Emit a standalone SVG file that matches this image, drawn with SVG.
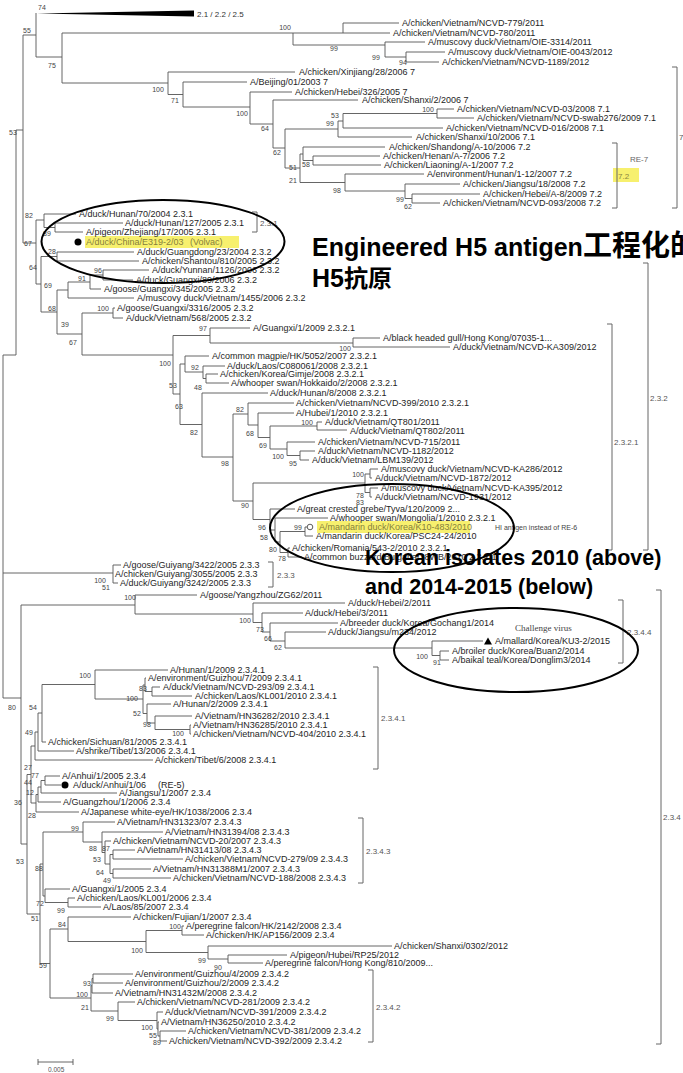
<svg xmlns="http://www.w3.org/2000/svg" width="683" height="1073" viewBox="0 0 683 1073">
<style>
.l{font-family:"Liberation Sans",Arial,sans-serif;font-size:9px;fill:#1e1e1e}
.o{font-family:"Liberation Sans",Arial,sans-serif;font-size:9px;fill:#857f3c}
.b{font-family:"Liberation Sans",Arial,sans-serif;font-size:7px;fill:#444;text-anchor:middle}
.c{font-family:"Liberation Sans",Arial,sans-serif;font-size:8px;fill:#555}
.big{font-family:"Liberation Sans",Arial,"Noto Sans CJK SC",sans-serif;font-weight:bold;fill:#000}
.br{fill:none;stroke:#666;stroke-width:1}
.e{fill:none;stroke:#000;stroke-width:2}
.hl{fill:#f7f06e}
</style>
<rect width="683" height="1073" fill="#fff"/>
<g id="highlights">
<rect class="hl" x="85" y="236" width="154" height="12"/>
<rect class="hl" x="317" y="521" width="153" height="12"/>
<rect class="hl" x="613" y="168" width="26" height="14"/>
</g>
<g id="connectors" fill="none" stroke="#555" stroke-width="0.9">
<polygon points="37,13.5 194,10.5 194,16.5" fill="#000" stroke="none"/>
<path d="M36 13V57M23 35H36M23 35V243M16 130H23M16 130V355M3 355H16M3 355V698M36 57H62M62 33V83M62 33H390M293 33V45M293 45H385M343 23V33M343 23H399M385 42V57M385 42H425M385 57H406M406 52V62M406 52H445M406 62H439M62 83H168M168 72V94.5M168 72H295M168 94.5H183M183 82V107M183 82H247M183 107H250M250 92V124M250 92H292M250 124H273M273 100V148M273 100H358M273 148H285M285 129V168M285 129H338M285 168H300M338 121V137M338 121H343M338 137H412M343 113.5V128M343 113.5H437M343 128H443M437 109V118M437 109H454M437 118H474M300 154V182.5M300 154H303M300 182.5H345M303 147V160.5M303 147H385M303 160.5H313M313 156V165M313 156H380M313 165H381M345 174V191M345 174H424M345 191H405M405 184V198.5M405 184H460M405 198.5H412M412 194V203M412 194H480M412 203H440"/>
<path d="M23 243H36M36 220V284M36 220H44M36 284H41M44 214V227.5M44 214H76M44 227.5H55M55 223V232M55 223H123M55 232H83M41 256.5V312M41 256.5H57M41 312H57M57 252V261M57 252H134M57 261H139M57 290V334M57 290H68M57 334H82M68 282V298M68 282H90M68 298H134M90 275V289M90 275H103M90 289H101M103 270V280M103 270H149M103 280H133M82 313V355M82 313H113M82 355H173M113 308V318M113 308H115M113 318H123"/>
<path d="M173 335.5V394M173 335.5H210M173 394H180M210 328V343M210 328H250M210 343H353M353 338V347M353 338H380M353 347H450M180 364V424.5M180 364H185M180 424.5H202M185 356V372M185 356H209M185 372H203M203 366V378.5M203 366H225M203 378.5H206M206 374V383M206 374H218M206 383H229M202 393V457M202 393H268M202 457H233M233 414V501M233 414H248M233 501H253M248 403V425M248 403H294M248 425H258M258 413V437.5M258 413H294M258 437.5H270M270 426V449M270 426H317M270 449H287M317 422V430M317 422H322M317 430H347M287 442V455.5M287 442H315M287 455.5H300M300 451V460M300 451H315M300 460H309M253 483V519.5M253 483H365M253 519.5H270M365 474V492.5M365 474H370M365 492.5H370M370 469V478M370 469H378M370 478H372M370 488V497M370 488H378M370 497H372M270 509V530M270 509H295M270 530H275M275 518V542M275 518H328M275 542H280M280 531.5V552.5M280 531.5H305M280 552.5H288M305 527V536M305 527H307M305 536H313M288 548V557M288 548H290M288 557H302"/>
<path d="M3 573H113M113 565V583M113 565H121M113 583H118M3 698H21M21 605V844M21 605H135M21 844H27M135 595V614M135 595H197M135 614H253M253 603V622.5M253 603H345M253 622.5H262M262 613V632M262 613H303M262 632H270M270 623V641M270 623H338M270 641H285M285 632V648M285 632H326M285 648H432M432 641V655.5M432 641H483M432 655.5H440M440 651V660M440 651H449M440 660H449"/>
<path d="M27 774.5V914M27 774.5H31M27 914H40M31 746V803M31 746H35M31 803H36M35 732V760M35 732H38M35 760H153M38 713V751M38 713H42M38 751H74M42 684.5V742M42 684.5H95M42 742H46M95 670V699M95 670H168M95 699H143M143 685V713.5M143 685H145M143 713.5H147M145 678V691.5M145 678H146M145 691.5H152M152 687V696M152 687H160M152 696H192M147 704V723M147 704H171M147 723H155M155 716V729.5M155 716H192M155 729.5H190M190 725V734M190 725H191M190 734H191M36 794.5V812M36 794.5H38M36 812H79M38 787V802M38 787H41M38 802H61M41 780.5V793M41 780.5H45M41 793H117M45 776V785M45 776H60M45 785H61"/>
<path d="M40 864V963.5M40 864H43M40 963.5H50M43 832V896M43 832H83M43 896H45M83 822V842M83 822H115M83 842H102M102 832V852.5M102 832H163M102 852.5H105M105 841V864M105 841H111M105 864H110M110 854.5V873.5M110 854.5H113M110 873.5H113M113 850V859M113 850H135M113 859H183M113 869V878M113 869H151M113 878H171M45 889V902.5M45 889H70M45 902.5H68M68 898V907M68 898H75M68 907H101M50 929V998M50 929H68M50 998H91M68 917V941.5M68 917H131M68 941.5H146M146 930.5V952.5M146 930.5H182M146 952.5H208M182 926V935M182 926H184M182 935H204M208 946V959M208 946H392M208 959H228M228 955V963M228 955H287M228 963H263M91 985.75V1011M91 985.75H92M91 1011H118M92 978.5V993M92 978.5H93M92 993H113M93 974V983M93 974H133M93 983H123M118 1002V1020.5M118 1002H135M118 1020.5H157M157 1012V1029M157 1012H163M157 1029H158M158 1022V1036M158 1022H159M158 1036H160M160 1031V1041M160 1031H186M160 1041H167"/>
<path d="M38 1062H73M38 1059V1065M73 1059V1065"/>
</g>
<g id="brackets" opacity="0.999">
<path class="br" d="M672 67H677V208H672M612 143H617V208H612M252 212H257V232H252M607 324H612V550H607M643 263H648V550H643M268 562H273V587H268M618 600H623V663H618M656 590H661V1044H656M373 667H378V769H373M358 818H363V883H358M368 970H373V1042H368"/>
<text class="c" x="679" y="140">7</text>
<text class="c" x="630" y="162" style="fill:#666">RE-7</text>
<text class="c" x="618" y="179" style="fill:#8a8440">7.2</text>
<text class="c" x="260" y="226">2.3.1</text>
<text class="c" x="614" y="445">2.3.2.1</text>
<text class="c" x="650" y="401">2.3.2</text>
<text class="c" x="277" y="578">2.3.3</text>
<text class="c" x="627" y="635">2.3.4.4</text>
<text class="c" x="663" y="820">2.3.4</text>
<text class="c" x="381" y="721">2.3.4.1</text>
<text class="c" x="366" y="854">2.3.4.3</text>
<text class="c" x="376" y="1010">2.3.4.2</text>
<text class="c" x="197" y="16.5" style="fill:#333">2.1 / 2.2 / 2.5</text>
<text class="c" x="48" y="1072" style="font-size:6.5px">0.005</text>
</g>
<g id="bootstrap" opacity="0.999">
<text class="b" x="42" y="9.5">74</text><text class="b" x="27" y="32.5">55</text><text class="b" x="52" y="67.5">75</text><text class="b" x="285" y="29.5">100</text><text class="b" x="334" y="50.5">99</text><text class="b" x="376" y="59.5">99</text><text class="b" x="403" y="64.5">94</text><text class="b" x="158" y="91.5">100</text><text class="b" x="175" y="102.5">71</text><text class="b" x="242" y="115.5">100</text><text class="b" x="265" y="130.5">64</text><text class="b" x="335" y="117.5">53</text><text class="b" x="330" y="125.5">99</text><text class="b" x="428" y="112">100</text><text class="b" x="277" y="154.5">62</text><text class="b" x="306" y="166.5">58</text><text class="b" x="293" y="169.5">51</text><text class="b" x="293" y="182.5">21</text><text class="b" x="337" y="192.5">98</text><text class="b" x="400" y="201.5">99</text><text class="b" x="408" y="208.5">62</text><text class="b" x="13" y="134.5">53</text>
<text class="b" x="29" y="217.5">82</text><text class="b" x="47" y="235.5">89</text><text class="b" x="28" y="245.5">67</text><text class="b" x="52" y="253.5">28</text><text class="b" x="33" y="269.5">64</text><text class="b" x="98" y="272.5">96</text><text class="b" x="82" y="280.5">91</text><text class="b" x="48" y="287.5">69</text><text class="b" x="52" y="310.5">68</text><text class="b" x="103" y="310.5">100</text><text class="b" x="65" y="326.5">39</text><text class="b" x="73" y="344.5">67</text>
<text class="b" x="203" y="330.5">97</text><text class="b" x="345" y="351">100</text><text class="b" x="165" y="365.5">100</text><text class="b" x="195" y="369.5">92</text><text class="b" x="173" y="387.5">53</text><text class="b" x="198" y="389.5">48</text><text class="b" x="179" y="408.5">63</text><text class="b" x="240" y="411.5">82</text><text class="b" x="307" y="424.5">100</text><text class="b" x="194" y="434.5">82</text><text class="b" x="250" y="435.5">68</text><text class="b" x="263" y="447.5">69</text><text class="b" x="278" y="458.5">100</text><text class="b" x="293" y="465.5">95</text><text class="b" x="225" y="465.5">98</text><text class="b" x="358" y="476.5">100</text><text class="b" x="360" y="497.5">78</text><text class="b" x="360" y="504.5">83</text><text class="b" x="245" y="507.5">90</text><text class="b" x="262" y="529.5">96</text><text class="b" x="298" y="529.5">99</text><text class="b" x="264" y="539.5">58</text><text class="b" x="273" y="551.5">80</text><text class="b" x="282" y="560.5">78</text>
<text class="b" x="100" y="582.5">100</text><text class="b" x="106" y="589.5">51</text>
<text class="b" x="130" y="599.5">100</text><text class="b" x="245" y="622.5">100</text><text class="b" x="260" y="631.5">73</text><text class="b" x="268" y="640.5">66</text><text class="b" x="278" y="649.5">62</text><text class="b" x="422" y="658.5">100</text><text class="b" x="437" y="664.5">91</text>
<text class="b" x="12" y="709.5">80</text>
<text class="b" x="85" y="677.5">100</text><text class="b" x="143" y="690.5">83</text><text class="b" x="132" y="700.5">100</text><text class="b" x="137" y="715.5">52</text><text class="b" x="147" y="726.5">98</text><text class="b" x="178" y="735.5">100</text><text class="b" x="33" y="709.5">54</text><text class="b" x="29" y="734.5">49</text><text class="b" x="28" y="769.5">27</text><text class="b" x="35" y="777.5">77</text><text class="b" x="28" y="784.5">44</text><text class="b" x="30" y="794.5">12</text><text class="b" x="18" y="804.5">36</text><text class="b" x="32" y="817.5">28</text>
<text class="b" x="75" y="830.5">99</text><text class="b" x="93" y="850.5">88</text><text class="b" x="106" y="850.5">87</text><text class="b" x="97" y="861.5">53</text><text class="b" x="100" y="874.5">64</text><text class="b" x="107" y="882.5">49</text><text class="b" x="20" y="863.5">53</text><text class="b" x="39" y="870.5">88</text><text class="b" x="40" y="905.5">72</text><text class="b" x="61" y="912.5">99</text><text class="b" x="35" y="920.5">51</text><text class="b" x="62" y="926.5">84</text><text class="b" x="175" y="928.5">100</text><text class="b" x="137" y="952.5">100</text><text class="b" x="202" y="962.5">99</text><text class="b" x="218" y="969.5">90</text><text class="b" x="43" y="967.5">59</text><text class="b" x="87" y="985.5">93</text><text class="b" x="82" y="996.5">100</text><text class="b" x="85" y="1009.5">21</text><text class="b" x="110" y="1020.5">99</text><text class="b" x="147" y="1029.5">100</text><text class="b" x="153" y="1037.5">55</text><text class="b" x="157" y="1044.5">89</text>
</g>
<g id="leaves">
<g id="n1"><text class="l" x="402" y="26">A/chicken/Vietnam/NCVD-779/2011</text></g>
<g id="n2"><text class="l" x="393" y="36">A/chicken/Vietnam/NCVD-780/2011</text></g>
<g id="n3"><text class="l" x="428" y="45">A/muscovy duck/Vietnam/OIE-3314/2011</text></g>
<g id="n4"><text class="l" x="448" y="55">A/muscovy duck/Vietnam/OIE-0043/2012</text></g>
<g id="n5"><text class="l" x="442" y="65">A/chicken/Vietnam/NCVD-1189/2012</text></g>
<g id="n6"><text class="l" x="299" y="75">A/chicken/Xinjiang/28/2006 7</text></g>
<g id="n7"><text class="l" x="250" y="85">A/Beijing/01/2003 7</text></g>
<g id="n8"><text class="l" x="295" y="95">A/chicken/Hebei/326/2005 7</text></g>
<g id="n9"><text class="l" x="362" y="103">A/chicken/Shanxi/2/2006 7</text></g>
<g id="n10"><text class="l" x="457" y="112">A/chicken/Vietnam/NCVD-03/2008 7.1</text></g>
<g id="n11"><text class="l" x="477" y="121">A/chicken/Vietnam/NCVD-swab276/2009 7.1</text></g>
<g id="n12"><text class="l" x="446" y="131">A/chicken/Vietnam/NCVD-016/2008 7.1</text></g>
<g id="n13"><text class="l" x="416" y="140">A/chicken/Shanxi/10/2006 7.1</text></g>
<g id="n14"><text class="l" x="389" y="150">A/chicken/Shandong/A-10/2006 7.2</text></g>
<g id="n15"><text class="l" x="383" y="159">A/chicken/Henan/A-7/2006 7.2</text></g>
<g id="n16"><text class="l" x="384" y="168">A/chicken/Liaoning/A-1/2007 7.2</text></g>
<g id="n17"><text class="l" x="427" y="177">A/environment/Hunan/1-12/2007 7.2</text></g>
<g id="n18"><text class="l" x="463" y="187">A/chicken/Jiangsu/18/2008 7.2</text></g>
<g id="n19"><text class="l" x="483" y="197">A/chicken/Hebei/A-8/2009 7.2</text></g>
<g id="n20"><text class="l" x="443" y="206">A/chicken/Vietnam/NCVD-093/2008 7.2</text></g>
<g id="n21"><text class="l" x="79" y="217">A/duck/Hunan/70/2004 2.3.1</text></g>
<g id="n22"><text class="l" x="125" y="226">A/duck/Hunan/127/2005 2.3.1</text></g>
<g id="n23"><text class="l" x="86" y="235">A/pigeon/Zhejiang/17/2005 2.3.1</text></g>
<g id="n24"><circle cx="78" cy="242" r="3.5" fill="#000"/><text class="o" x="86" y="245">A/duck/China/E319-2/03</text><text class="o" x="190" y="245">(Volvac)</text></g>
<g id="n25"><text class="l" x="137" y="255">A/duck/Guangdong/23/2004 2.3.2</text></g>
<g id="n26"><text class="l" x="142" y="264">A/chicken/Shantou/810/2005 2.3.2</text></g>
<g id="n27"><text class="l" x="152" y="273">A/duck/Yunnan/1126/2006 2.3.2</text></g>
<g id="n28"><text class="l" x="136" y="283">A/duck/Guangxi/89/2006 2.3.2</text></g>
<g id="n29"><text class="l" x="104" y="292">A/goose/Guangxi/345/2005 2.3.2</text></g>
<g id="n30"><text class="l" x="137" y="301">A/muscovy duck/Vietnam/1455/2006 2.3.2</text></g>
<g id="n31"><text class="l" x="117" y="311">A/goose/Guangxi/3316/2005 2.3.2</text></g>
<g id="n32"><text class="l" x="126" y="321">A/duck/Vietnam/568/2005 2.3.2</text></g>
<g id="n33"><text class="l" x="253" y="331">A/Guangxi/1/2009 2.3.2.1</text></g>
<g id="n34"><text class="l" x="383" y="341">A/black headed gull/Hong Kong/07035-1...</text></g>
<g id="n35"><text class="l" x="453" y="350">A/duck/Vietnam/NCVD-KA309/2012</text></g>
<g id="n36"><text class="l" x="212" y="359">A/common magpie/HK/5052/2007 2.3.2.1</text></g>
<g id="n37"><text class="l" x="227" y="369">A/duck/Laos/C080061/2008 2.3.2.1</text></g>
<g id="n38"><text class="l" x="220" y="377">A/chicken/Korea/Gimje/2008 2.3.2.1</text></g>
<g id="n39"><text class="l" x="231" y="386">A/whooper swan/Hokkaido/2/2008 2.3.2.1</text></g>
<g id="n40"><text class="l" x="270" y="396">A/duck/Hunan/8/2008 2.3.2.1</text></g>
<g id="n41"><text class="l" x="296" y="406">A/chicken/Vietnam/NCVD-399/2010 2.3.2.1</text></g>
<g id="n42"><text class="l" x="296" y="416">A/Hubei/1/2010 2.3.2.1</text></g>
<g id="n43"><text class="l" x="325" y="425">A/duck/Vietnam/QT801/2011</text></g>
<g id="n44"><text class="l" x="350" y="434">A/duck/Vietnam/QT802/2011</text></g>
<g id="n45"><text class="l" x="318" y="445">A/chicken/Vietnam/NCVD-715/2011</text></g>
<g id="n46"><text class="l" x="318" y="454">A/duck/Vietnam/NCVD-1182/2012</text></g>
<g id="n47"><text class="l" x="312" y="463">A/duck/Vietnam/LBM139/2012</text></g>
<g id="n48"><text class="l" x="381" y="472">A/muscovy duck/Vietnam/NCVD-KA286/2012</text></g>
<g id="n49"><text class="l" x="375" y="481">A/duck/Vietnam/NCVD-1872/2012</text></g>
<g id="n50"><text class="l" x="381" y="491">A/muscovy duck/Vietnam/NCVD-KA395/2012</text></g>
<g id="n51"><text class="l" x="375" y="500">A/duck/Vietnam/NCVD-1931/2012</text></g>
<g id="n52"><text class="l" x="297" y="512">A/great crested grebe/Tyva/120/2009 2...</text></g>
<g id="n53"><text class="l" x="330" y="521">A/whooper swan/Mongolia/1/2010 2.3.2.1</text></g>
<g id="n54"><circle cx="310" cy="527" r="2.8" fill="none" stroke="#333" stroke-width="0.8"/><text class="o" x="319" y="530">A/mandarin duck/Korea/K10-483/2010</text></g>
<g id="n55"><text class="l" x="316" y="539">A/mandarin duck/Korea/PSC24-24/2010</text></g>
<g id="n56"><text class="l" x="292" y="551">A/chicken/Romania/543-2/2010 2.3.2.1</text></g>
<g id="n57"><text class="l" x="304" y="560">A/common buzzard/Bulgaria/38WB/2010 2.3.2.1</text></g>
<g id="n58"><text class="l" x="123" y="568">A/goose/Guiyang/3422/2005 2.3.3</text></g>
<g id="n59"><text class="l" x="115" y="577">A/chicken/Guiyang/3055/2005 2.3.3</text></g>
<g id="n60"><text class="l" x="120" y="586">A/duck/Guiyang/3242/2005 2.3.3</text></g>
<g id="n61"><text class="l" x="200" y="598">A/goose/Yangzhou/ZG62/2011</text></g>
<g id="n62"><text class="l" x="348" y="606">A/duck/Hebei/2/2011</text></g>
<g id="n63"><text class="l" x="305" y="616">A/duck/Hebei/3/2011</text></g>
<g id="n64"><text class="l" x="340" y="626">A/breeder duck/Korea/Gochang1/2014</text></g>
<g id="n65"><text class="l" x="328" y="635">A/duck/Jiangsu/m234/2012</text></g>
<g id="n66"><polygon points="484,644.5 488,637.5 492,644.5" fill="#000"/><text class="l" x="495" y="644">A/mallard/Korea/KU3-2/2015</text></g>
<g id="n67"><text class="l" x="452" y="654">A/broiler duck/Korea/Buan2/2014</text></g>
<g id="n68"><text class="l" x="452" y="663">A/baikal teal/Korea/Donglim3/2014</text></g>
<g id="n69"><text class="l" x="170" y="673">A/Hunan/1/2009 2.3.4.1</text></g>
<g id="n70"><text class="l" x="148" y="681">A/environment/Guizhou/7/2009 2.3.4.1</text></g>
<g id="n71"><text class="l" x="163" y="690">A/duck/Vietnam/NCVD-293/09 2.3.4.1</text></g>
<g id="n72"><text class="l" x="195" y="699">A/chicken/Laos/KL001/2010 2.3.4.1</text></g>
<g id="n73"><text class="l" x="173" y="707">A/Hunan/2/2009 2.3.4.1</text></g>
<g id="n74"><text class="l" x="195" y="719">A/Vietnam/HN36282/2010 2.3.4.1</text></g>
<g id="n75"><text class="l" x="193" y="728">A/Vietnam/HN36285/2010 2.3.4.1</text></g>
<g id="n76"><text class="l" x="193" y="737">A/chicken/Vietnam/NCVD-404/2010 2.3.4.1</text></g>
<g id="n77"><text class="l" x="48" y="745">A/chicken/Sichuan/81/2005 2.3.4.1</text></g>
<g id="n78"><text class="l" x="76" y="754">A/shrike/Tibet/13/2006 2.3.4.1</text></g>
<g id="n79"><text class="l" x="155" y="763">A/chicken/Tibet/6/2008 2.3.4.1</text></g>
<g id="n80"><text class="l" x="62" y="779">A/Anhui/1/2005 2.3.4</text></g>
<g id="n81"><circle cx="65" cy="785" r="3.5" fill="#000"/><text class="l" x="73" y="788">A/duck/Anhui/1/06</text><text class="l" x="158" y="788">(RE-5)</text></g>
<g id="n82"><text class="l" x="119" y="796">A/Jiangsu/1/2007 2.3.4</text></g>
<g id="n83"><text class="l" x="63" y="805">A/Guangzhou/1/2006 2.3.4</text></g>
<g id="n84"><text class="l" x="81" y="815">A/Japanese white-eye/HK/1038/2006 2.3.4</text></g>
<g id="n85"><text class="l" x="117" y="825">A/Vietnam/HN31323/07 2.3.4.3</text></g>
<g id="n86"><text class="l" x="165" y="835">A/Vietnam/HN31394/08 2.3.4.3</text></g>
<g id="n87"><text class="l" x="113" y="844">A/chicken/Vietnam/NCVD-20/2007 2.3.4.3</text></g>
<g id="n88"><text class="l" x="137" y="853">A/Vietnam/HN31413/08 2.3.4.3</text></g>
<g id="n89"><text class="l" x="185" y="862">A/chicken/Vietnam/NCVD-279/09 2.3.4.3</text></g>
<g id="n90"><text class="l" x="153" y="872">A/Vietnam/HN31388M1/2007 2.3.4.3</text></g>
<g id="n91"><text class="l" x="173" y="881">A/chicken/Vietnam/NCVD-188/2008 2.3.4.3</text></g>
<g id="n92"><text class="l" x="72" y="892">A/Guangxi/1/2005 2.3.4</text></g>
<g id="n93"><text class="l" x="77" y="901">A/chicken/Laos/KL001/2006 2.3.4</text></g>
<g id="n94"><text class="l" x="103" y="910">A/Laos/85/2007 2.3.4</text></g>
<g id="n95"><text class="l" x="133" y="920">A/chicken/Fujian/1/2007 2.3.4</text></g>
<g id="n96"><text class="l" x="186" y="929">A/peregrine falcon/HK/2142/2008 2.3.4</text></g>
<g id="n97"><text class="l" x="206" y="938">A/chicken/HK/AP156/2009 2.3.4</text></g>
<g id="n98"><text class="l" x="394" y="949">A/chicken/Shanxi/0302/2012</text></g>
<g id="n99"><text class="l" x="290" y="958">A/pigeon/Hubei/RP25/2012</text></g>
<g id="n100"><text class="l" x="265" y="966">A/peregrine falcon/Hong Kong/810/2009...</text></g>
<g id="n101"><text class="l" x="135" y="977">A/environment/Guizhou/4/2009 2.3.4.2</text></g>
<g id="n102"><text class="l" x="125" y="986">A/environment/Guizhou/2/2009 2.3.4.2</text></g>
<g id="n103"><text class="l" x="115" y="996">A/Vietnam/HN31432M/2008 2.3.4.2</text></g>
<g id="n104"><text class="l" x="137" y="1005">A/chicken/Vietnam/NCVD-281/2009 2.3.4.2</text></g>
<g id="n105"><text class="l" x="165" y="1015">A/duck/Vietnam/NCVD-391/2009 2.3.4.2</text></g>
<g id="n106"><text class="l" x="161" y="1025">A/Vietnam/HN36250/2010 2.3.4.2</text></g>
<g id="n107"><text class="l" x="188" y="1034">A/chicken/Vietnam/NCVD-381/2009 2.3.4.2</text></g>
<g id="n108"><text class="l" x="169" y="1044">A/chicken/Vietnam/NCVD-392/2009 2.3.4.2</text></g>
</g>
<g id="annotations">
<text x="495" y="530" style="font-family:'Liberation Sans',Arial,sans-serif;font-size:7px;fill:#444">HI antigen instead of RE-6</text>
<text x="515" y="631" style="font-family:'Liberation Serif','Times New Roman',serif;font-size:9px;fill:#444">Challenge virus</text>
<ellipse class="e" cx="163" cy="241.5" rx="121.5" ry="41.5"/>
<ellipse class="e" cx="392" cy="528" rx="122" ry="44"/>
<ellipse class="e" cx="516" cy="650" rx="122" ry="42"/>
<text class="big" x="312" y="256" font-size="25">Engineered H5 antigen<tspan font-size="29" font-family="'Noto Sans CJK SC',sans-serif">工程化的</tspan></text>
<text class="big" x="312" y="287" font-size="25">H5<tspan font-size="24" font-family="'Noto Sans CJK SC',sans-serif">抗原</tspan></text>
<text class="big" x="365" y="565" font-size="21.5">Korean isolates 2010 (above)</text>
<text class="big" x="365" y="594" font-size="21.5">and 2014-2015 (below)</text>
</g>
</svg>
